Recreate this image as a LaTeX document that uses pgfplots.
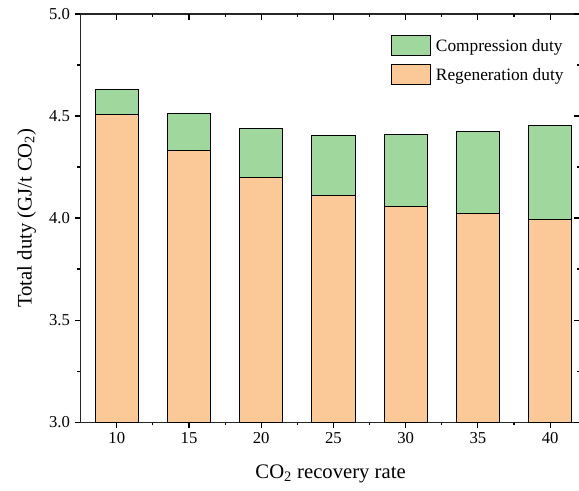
\documentclass[border=0pt]{standalone}
\usepackage{fontspec}
\setmainfont{Liberation Serif}
\usepackage{pgfplots}
\usepackage{pgfplotstable}
\pgfplotsset{compat=1.18}

\definecolor{regen}{RGB}{251,200,152}
\definecolor{comp}{RGB}{159,215,157}

% Energy duty per tonne of CO2 (GJ/t) at each recovery rate
\pgfplotstableread{
rate regen comp
10 4.508 0.124
15 4.330 0.183
20 4.200 0.240
25 4.108 0.297
30 4.055 0.352
35 4.021 0.404
40 3.995 0.457
}\duty

\pgfplotsset{
  frame/.style={
    scale only axis, width=374.8pt, height=306pt,
    xmin=7.5, xmax=42.1, ymin=3, ymax=5,
    xtick={10,15,...,40}, ytick={3,3.5,...,5},
    minor x tick num=1, minor y tick num=1,
    major tick length=4.5pt, minor tick length=2.5pt,
    every tick/.style={black, line width=0.8pt},
  },
}

\begin{document}
\begin{tikzpicture}
\useasboundingbox (-60.5pt,-51pt) rectangle (373.7pt,316.5pt);
\begin{axis}[
  frame,
  ybar stacked, bar width=3,
  xtick pos=left, ytick pos=left, tick align=outside,
  axis line style={line width=0.8pt, black!85},
  yticklabel style={/pgf/number format/.cd, fixed, fixed zerofill, precision=1},
  /pgf/number format/assume math mode=true,
  tick label style={font=\fontsize{12.5}{15}\selectfont},
  label style={font=\fontsize{15.5}{18}\selectfont},
  xlabel={CO\textsubscript{2} recovery rate},
  ylabel={Total duty (GJ/t CO\textsubscript{2})},
  xlabel style={yshift=-9pt},
  ylabel style={yshift=3pt},
  reverse legend,
  legend cell align=left,
  legend image code/.code={\draw[#1, line width=0.75pt] (0pt,-7.5pt) rectangle (29pt,7.5pt);},
  legend style={at={(0.621,0.9485)}, anchor=north west, draw=none, fill=none,
    inner sep=0pt, row sep=6pt,
    font=\fontsize{13}{15}\selectfont,
    nodes={inner sep=0pt, text depth=0pt}},
]
\addplot[fill=regen, draw=black, line width=0.75pt] table[x=rate, y=regen] {\duty};
\addlegendentry{\hspace{3.75pt}Regeneration duty}
\addplot[fill=comp, draw=black, line width=0.75pt] table[x=rate, y=comp] {\duty};
\addlegendentry{\hspace{3.75pt}Compression duty}
\end{axis}
% inward ticks along the top and right edges
\begin{axis}[
  frame,
  axis line style={draw=none},
  xtick pos=right, ytick pos=right, tick align=inside,
  xticklabels={}, yticklabels={},
]
\end{axis}
\end{tikzpicture}
\end{document}
